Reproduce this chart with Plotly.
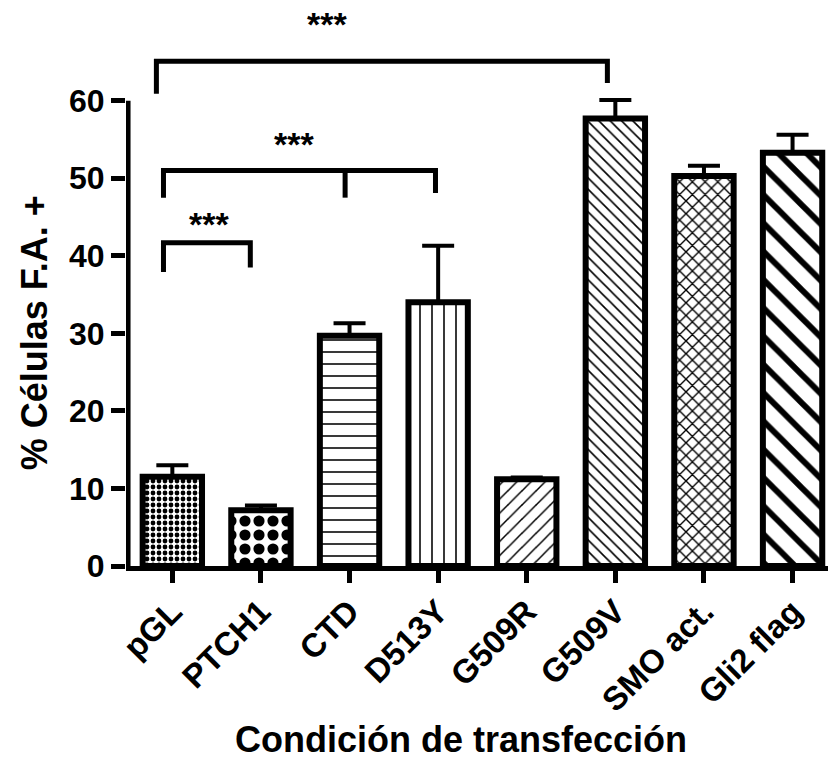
import plotly.graph_objects as go

# ---------------- data ----------------
categories = ["pGL", "PTCH1", "CTD", "D513Y", "G509R", "G509V", "SMO act.", "Gli2 flag"]
values = [11.5, 7.2, 29.7, 34.0, 11.2, 57.7, 50.3, 53.3]
errors = [1.5, 0.6, 1.6, 7.3, 0.2, 2.4, 1.3, 2.3]
y_ticks = [0, 10, 20, 30, 40, 50, 60]

# significance brackets (category index of each leg, level of the bar and of leg ends)
sig_left = [0, 0, 0]
sig_mid = [None, 2, None]
sig_right = [1, 3, 5]
sig_level = [41.7, 51.0, 65.1]
sig_leg_left_end = [37.9, 47.5, 60.9]
sig_leg_right_end = [38.5, 48.1, 62.3]
sig_labels = ["***", "***", "***"]
sig_label_level = [44.3, 54.7, 70.2]

x_title = "Condición de transfección"
y_title = "% Células F.A. +"

# ---------------- styles ----------------
patterns = [".", ".", "-", "|", "/", "\\", "x", "\\"]
pattern_sizes = [6, 14, 12, 12, 10, 8, 9, 20]
pattern_solidity = [0.5, 0.5, 0.13, 0.13, 0.15, 0.2, 0.28, 0.3]
leg_off_left = [-0.10, -0.10, -0.18]
leg_off_mid = [None, -0.05, None]
leg_off_right = [-0.12, -0.03, -0.09]
label_x = [0.41, 1.37, 1.75]

FONT = "Liberation Sans, Arial, sans-serif"
x_idx = list(range(len(categories)))

fig = go.Figure()
fig.add_trace(go.Bar(
    x=x_idx, y=values, width=0.67,
    marker=dict(
        color="white",
        line=dict(color="black", width=6),
        pattern=dict(shape=patterns, size=pattern_sizes, solidity=pattern_solidity,
                     fgcolor="black", bgcolor="white", fgopacity=1),
    ),
    error_y=dict(type="data", symmetric=False, array=errors,
                 arrayminus=[0] * len(errors), color="black", thickness=4, width=16),
    showlegend=False,
))

shapes = []
# y axis line from 0 to 60
shapes.append(dict(type="line", xref="x", yref="y", x0=-0.5, x1=-0.5,
                   y0=0, y1=max(y_ticks), line=dict(color="black", width=5)))
for i in range(len(sig_left)):
    xl = sig_left[i] + leg_off_left[i]
    xr = sig_right[i] + leg_off_right[i]
    lv = sig_level[i]
    path = f"M{xl},{sig_leg_left_end[i]} L{xl},{lv} L{xr},{lv} L{xr},{sig_leg_right_end[i]}"
    shapes.append(dict(type="path", xref="x", yref="y", path=path,
                       line=dict(color="black", width=5)))
    if sig_mid[i] is not None:
        xm = sig_mid[i] + leg_off_mid[i]
        shapes.append(dict(type="line", xref="x", yref="y", x0=xm, x1=xm,
                           y0=lv, y1=sig_leg_left_end[i], line=dict(color="black", width=5)))

annotations = []
for i in range(len(sig_labels)):
    annotations.append(dict(x=label_x[i], y=sig_label_level[i], xref="x", yref="y",
                            text=sig_labels[i], showarrow=False, yanchor="middle",
                            yshift=-2,
                            font=dict(family=FONT, size=34, color="black", weight="bold")))
annotations.append(dict(x=0.477, y=-0.312, xref="paper", yref="paper", text=x_title,
                        showarrow=False, xanchor="center", yanchor="middle",
                        font=dict(family=FONT, size=36, color="black", weight="bold")))
annotations.append(dict(x=-0.13, y=0.42, xref="paper", yref="paper", text=y_title,
                        showarrow=False, textangle=-90, xanchor="center", yanchor="middle",
                        font=dict(family=FONT, size=36, color="black", weight="bold")))

fig.update_layout(
    width=832, height=765,
    margin=dict(l=126, r=4, t=10, b=199),
    paper_bgcolor="white", plot_bgcolor="white",
    shapes=shapes, annotations=annotations,
    xaxis=dict(range=[-0.523, 7.4], tickvals=x_idx, ticktext=categories,
               tickangle=-45, showline=True, linecolor="black", linewidth=5,
               ticks="outside", ticklen=12, tickwidth=5, tickcolor="black",
               showgrid=False, zeroline=False, ticklabelstandoff=-4,
               tickfont=dict(family=FONT, size=33, color="black", weight="bold")),
    yaxis=dict(range=[0, 71.7], tickvals=y_ticks, showline=False,
               ticks="outside", ticklen=14, tickwidth=5, tickcolor="black",
               showgrid=False, zeroline=False,
               tickfont=dict(family=FONT, size=32, color="black", weight="bold")),
)

fig.write_html("out.html")
